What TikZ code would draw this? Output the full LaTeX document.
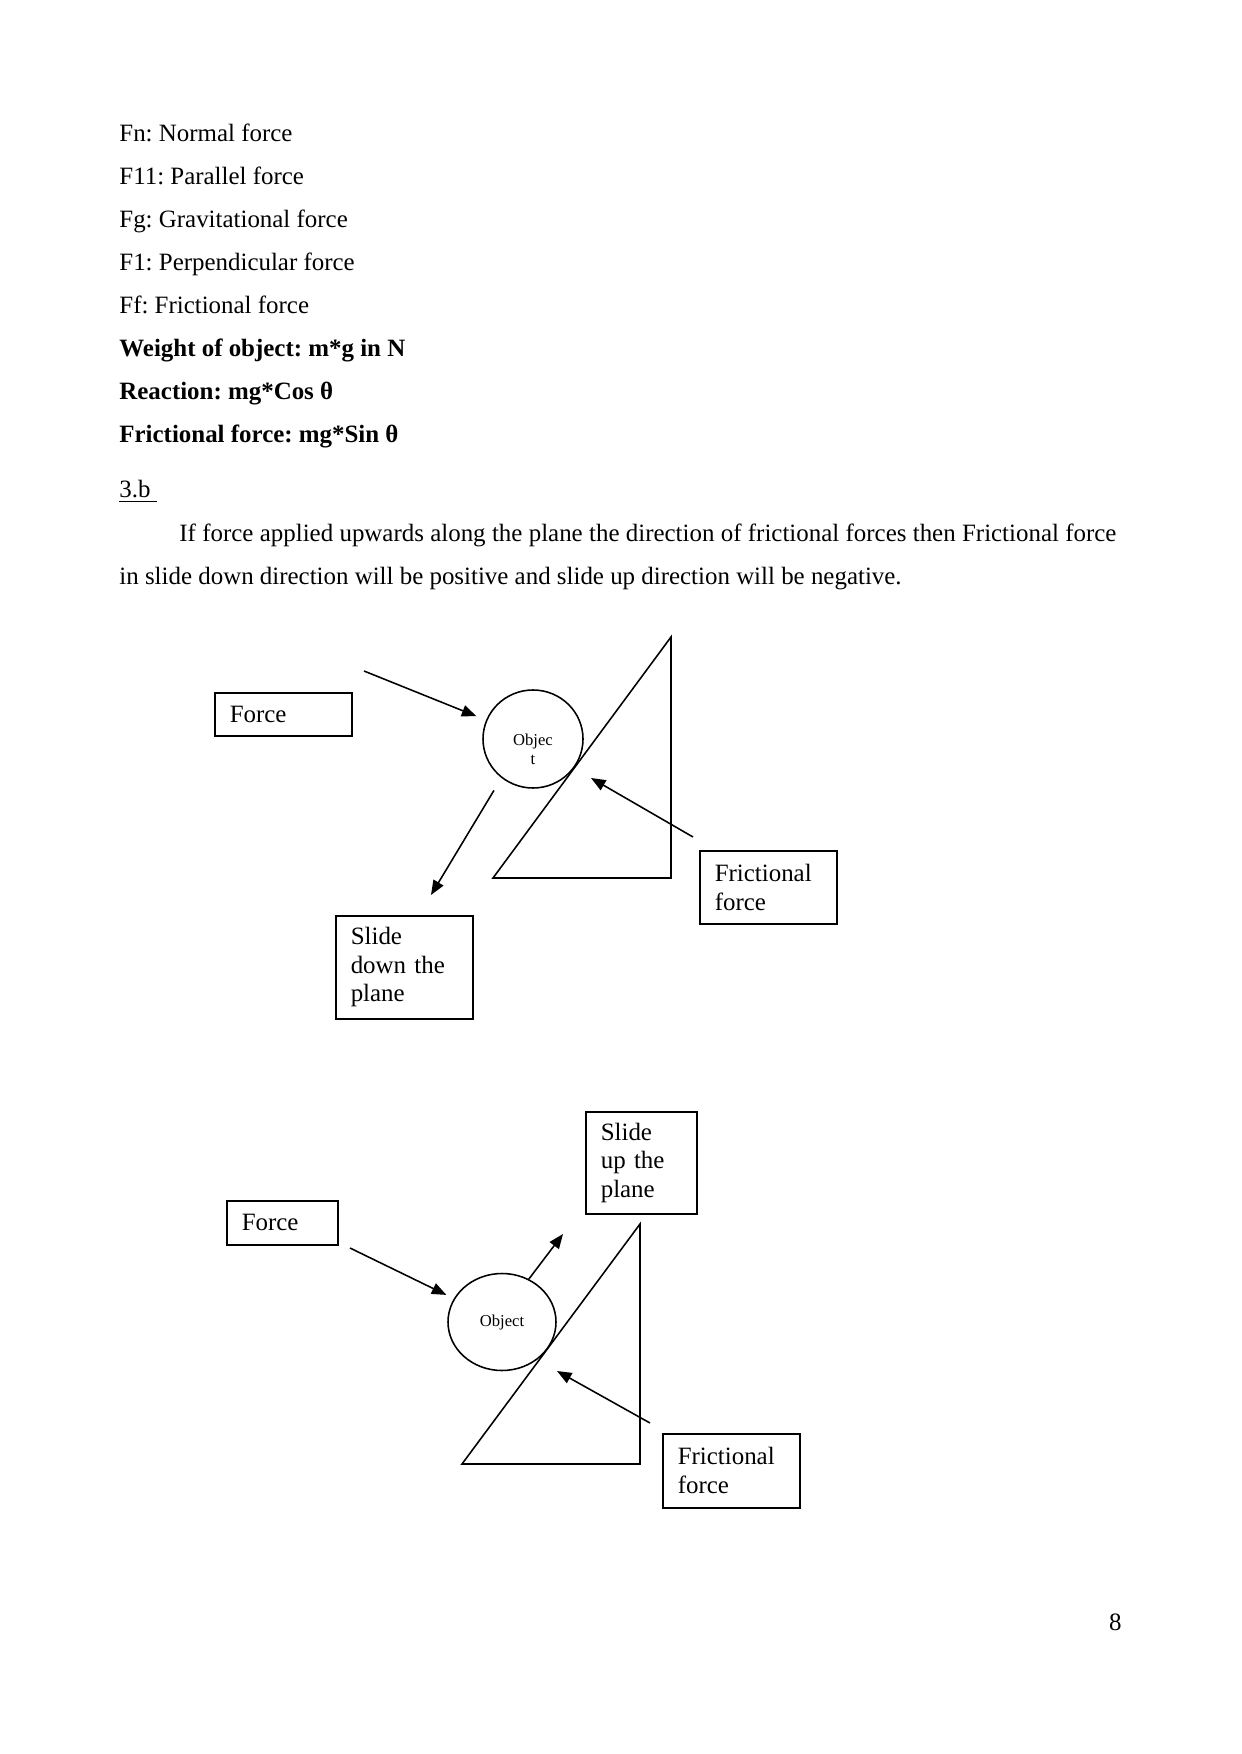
\documentclass[tikz,border=0pt]{standalone}
\usepackage{fontspec}
\setmainfont{Liberation Serif}
\usetikzlibrary{shapes.geometric,arrows.meta}
\newlength\pxu
\setlength\pxu{0.0169218cm}
\frenchspacing

\begin{document}
\begin{tikzpicture}[x=0.0169218cm, y=-0.0169218cm,
  bodytext/.style={anchor=base west, inner sep=0pt, font=\fontsize{12}{13.8}\selectfont},
  tagbox/.style={rectangle, draw, line width=0.75pt, anchor=north west, align=left,
                 inner xsep=15\pxu, inner ysep=0pt, font=\fontsize{12}{13.8}\selectfont},
  ball/.style={ellipse, draw, line width=0.75pt, inner sep=0pt,
               font=\fontsize{8}{9.2}\selectfont},
  vec/.style={line width=0.75pt, -{Triangle[length=7pt,width=5.5pt]}}]

\useasboundingbox (0,0) rectangle (1241,1754);

% text of the page
\node[bodytext] (fn) at (119,141.5) {Fn: Normal force};
\node[bodytext] (f11) at (119,184.5) {F11: Parallel force};
\node[bodytext] (fg) at (119,227.5) {Fg: Gravitational force};
\node[bodytext] (f1) at (119,270.5) {F1: Perpendicular force};
\node[bodytext] (ff) at (119,313.5) {Ff: Frictional force};
\node[bodytext] (weight) at (119,356.5) {\bfseries Weight of object: m*g in N};
\node[bodytext] (reaction) at (119,399.5) {\bfseries Reaction: mg*Cos θ};
\node[bodytext] (friction) at (119,442.5) {\bfseries Frictional force: mg*Sin θ};
\node[bodytext] (sec) at (119,498) {\underline{3.b\ }};
\node[bodytext] (para1) at (179,541)
  {\makebox[937\pxu][s]{If force applied upwards along the plane the direction of frictional forces then Frictional force}};
\node[bodytext] (para2) at (119,584) {in slide down direction will be positive and slide up direction will be negative.};

% slide down the plane
\draw[line width=0.75pt] (671,637) -- (493,878) -- (671,878) -- cycle;
\node[ball, minimum width=100\pxu, minimum height=98\pxu] (obj1) at (533,739)
  {\raisebox{-8pt}[0pt][0pt]{\begin{tabular}{@{}c@{}}Objec\\t\end{tabular}}};
\node[tagbox, minimum width=137\pxu, minimum height=43\pxu, text width=107\pxu] (force1) at (214,692) {Force};
\node[tagbox, minimum width=137\pxu, minimum height=73\pxu, text width=107\pxu] (fric1) at (699,850) {Frictional\\force};
\node[tagbox, minimum width=137\pxu, minimum height=103\pxu, text width=107\pxu] (down1) at (335,915) {Slide\\down the\\plane};

\coordinate (push1) at (364,671);
\coordinate (downtip) at (431,895);
\coordinate (fricstart1) at (693,837);
\coordinate (fricend1) at (591,778);
\draw[vec, shorten >=5pt] (push1) -- (obj1);
\draw[vec, shorten <=7pt] (obj1.231) -- (downtip);
\draw[vec] (fricstart1) -- (fricend1);

% slide up the plane
\draw[line width=0.75pt] (640,1224) -- (462,1464) -- (640,1464) -- cycle;
\node[ball, minimum width=108\pxu, minimum height=97\pxu] (obj2) at (502,1322) {Object};
\node[tagbox, minimum width=111\pxu, minimum height=44\pxu, text width=81\pxu] (force2) at (226,1200) {Force};
\node[tagbox, minimum width=111\pxu, minimum height=102\pxu, text width=81\pxu] (up2) at (585,1111) {Slide\\up the\\plane};
\node[tagbox, minimum width=137\pxu, minimum height=74\pxu, text width=107\pxu] (fric2) at (662,1433) {Frictional\\force};

\coordinate (push2) at (350,1248);
\coordinate (uptip) at (563,1234);
\coordinate (fricstart2) at (650,1423);
\coordinate (fricend2) at (557,1371);
\draw[vec, shorten >=4pt] (push2) -- (obj2);
\draw[vec] (obj2.58) -- (uptip);
\draw[vec] (fricstart2) -- (fricend2);

\node[bodytext, anchor=base east] (page) at (1122,1630) {8};
\end{tikzpicture}
\end{document}
